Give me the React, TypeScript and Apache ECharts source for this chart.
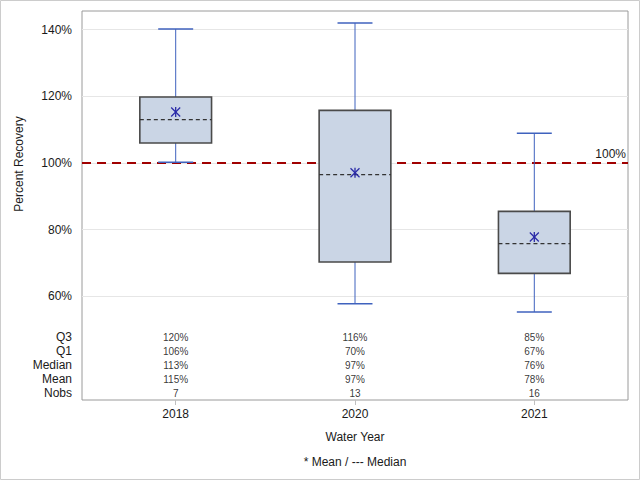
import React, { useEffect, useRef } from "react";
import * as echarts from "echarts";

const categories = ["2018", "2020", "2021"];
const whiskerMax = [140.2, 142.0, 108.9];
const q3 = [119.8, 115.8, 85.5];
const median = [113.0, 96.5, 75.8];
const q1 = [106.0, 70.3, 66.9];
const whiskerMin = [100.2, 57.8, 55.3];
const mean = [115.3, 97.1, 77.8];

const rowNames = ["Q3", "Q1", "Median", "Mean", "Nobs"];
const tableQ3 = ["120%", "116%", "85%"];
const tableQ1 = ["106%", "70%", "67%"];
const tableMedian = ["113%", "97%", "76%"];
const tableMean = ["115%", "97%", "78%"];
const tableNobs = ["7", "13", "16"];

const yTicks = [60, 80, 100, 120, 140];
const referenceValue = 100;

const FONT = "'Liberation Sans', Arial, Helvetica, sans-serif";
const TEXT = "#1a1a1a";

export default function App() {
  const ref = useRef<HTMLDivElement>(null);

  useEffect(() => {
    if (!ref.current) return;
    const chart = echarts.init(ref.current, null, { renderer: "svg" });

    const boxData = categories.map((_, i) => [
      i,
      whiskerMin[i],
      q1[i],
      median[i],
      q3[i],
      whiskerMax[i],
      mean[i],
    ]);

    const tableRows = [tableQ3, tableQ1, tableMedian, tableMean, tableNobs];
    const tableData: any[] = [];
    tableRows.forEach((row, r) => {
      row.forEach((txt, i) => tableData.push([i, rowNames[r], txt]));
    });

    const xMin = -0.5225;
    const xMax = 2.5225;

    const option: any = {
      animation: false,
      textStyle: { fontFamily: FONT },
      grid: [
        {
          left: 82,
          top: 11,
          width: 546,
          height: 389,
          show: true,
          borderColor: "#9a9a9a",
          borderWidth: 1,
          backgroundColor: "transparent",
        },
        { left: 82, top: 330, width: 546, height: 70 },
      ],
      xAxis: [
        {
          type: "value",
          gridIndex: 0,
          min: xMin,
          max: xMax,
          axisLine: { show: false },
          splitLine: { show: false },
          axisTick: {
            show: true,
            customValues: categories.map((_, i) => i),
            length: 5,
            lineStyle: { color: "#c0c0c0" },
          },
          axisLabel: {
            customValues: categories.map((_, i) => i),
            formatter: (v: number) => categories[Math.round(v)] ?? "",
            fontSize: 12,
            color: TEXT,
            fontFamily: FONT,
            margin: 8,
          },
          name: "Water Year",
          nameLocation: "middle",
          nameGap: 31,
          nameTextStyle: { fontSize: 12, color: TEXT, fontFamily: FONT },
        },
        {
          type: "value",
          gridIndex: 1,
          min: xMin,
          max: xMax,
          show: false,
        },
      ],
      yAxis: [
        {
          type: "value",
          gridIndex: 0,
          min: 28.9,
          max: 145.6,
          axisLine: { show: false },
          axisTick: { show: false },
          splitLine: { show: false },
          axisLabel: {
            customValues: yTicks,
            formatter: (v: number) => `${v}%`,
            fontSize: 12,
            color: TEXT,
            fontFamily: FONT,
            margin: 10,
          },
        },
        {
          type: "category",
          gridIndex: 1,
          data: rowNames,
          inverse: true,
          axisLine: { show: false },
          axisTick: { show: false },
          splitLine: { show: false },
          axisLabel: {
            interval: 0,
            fontSize: 12,
            color: TEXT,
            fontFamily: FONT,
            margin: 10,
          },
        },
      ],
      series: [
        {
          type: "line",
          xAxisIndex: 0,
          yAxisIndex: 0,
          data: [],
          z: 1,
          silent: true,
          markLine: {
            silent: true,
            symbol: "none",
            animation: false,
            data: [
              ...yTicks.map((t) => ({
                yAxis: t,
                lineStyle: { color: "#e6e6e6", width: 1, type: "solid" },
                label: { show: false },
              })),
              {
                yAxis: referenceValue,
                lineStyle: { color: "#A00000", width: 2, type: [9, 6] },
                label: {
                  show: true,
                  position: "insideEndTop",
                  formatter: `${referenceValue}%`,
                  fontSize: 12,
                  color: TEXT,
                  fontFamily: FONT,
                  distance: [2, 3],
                },
              },
            ],
          },
        },
        {
          type: "custom",
          xAxisIndex: 0,
          yAxisIndex: 0,
          z: 5,
          data: boxData,
          renderItem: (params: any, api: any) => {
            const i = api.value(0);
            const x = api.coord([i, 0])[0];
            const y = (v: number) => api.coord([i, v])[1];
            const halfW = api.size([0.4, 0])[0] / 2;
            const capHalf = api.size([0.195, 0])[0] / 2;
            const yMin = y(api.value(1));
            const yQ1 = y(api.value(2));
            const yMed = y(api.value(3));
            const yQ3 = y(api.value(4));
            const yMax = y(api.value(5));
            const yMean = y(api.value(6));
            const whisker = { stroke: "#3F62BE", lineWidth: 1 };
            const m = 4.5;
            const mStyle = { stroke: "#2A2AA8", lineWidth: 1.3 };
            return {
              type: "group",
              children: [
                { type: "line", shape: { x1: x, y1: yMax, x2: x, y2: yQ3 }, style: whisker },
                { type: "line", shape: { x1: x, y1: yQ1, x2: x, y2: yMin }, style: whisker },
                { type: "line", shape: { x1: x - capHalf, y1: yMax, x2: x + capHalf, y2: yMax }, style: { ...whisker, lineWidth: 1.5 } },
                { type: "line", shape: { x1: x - capHalf, y1: yMin, x2: x + capHalf, y2: yMin }, style: { ...whisker, lineWidth: 1.5 } },
                {
                  type: "rect",
                  shape: { x: x - halfW, y: yQ3, width: halfW * 2, height: yQ1 - yQ3 },
                  style: { fill: "#CAD5E5", stroke: "#4A4A4A", lineWidth: 1.6 },
                },
                {
                  type: "line",
                  shape: { x1: x - halfW, y1: yMed, x2: x + halfW, y2: yMed },
                  style: { stroke: "#333333", lineWidth: 1.2, lineDash: [4, 3] },
                },
                { type: "line", shape: { x1: x - m, y1: yMean - m, x2: x + m, y2: yMean + m }, style: mStyle },
                { type: "line", shape: { x1: x - m, y1: yMean + m, x2: x + m, y2: yMean - m }, style: mStyle },
                { type: "line", shape: { x1: x, y1: yMean - m - 0.5, x2: x, y2: yMean + m + 0.5 }, style: mStyle },
              ],
            };
          },
        },
        {
          type: "scatter",
          xAxisIndex: 1,
          yAxisIndex: 1,
          data: tableData,
          symbolSize: 1,
          itemStyle: { color: "rgba(0,0,0,0)" },
          silent: true,
          label: {
            show: true,
            position: "inside",
            formatter: (p: any) => p.value[2],
            fontSize: 10,
            color: "#000000",
            fontFamily: FONT,
          },
        },
      ],
      graphic: [
        {
          type: "rect",
          shape: { x: 0.5, y: 0.5, width: 639, height: 479 },
          style: { fill: "none", stroke: "#cccccc", lineWidth: 1 },
          silent: true,
        },
        {
          type: "text",
          x: 19,
          y: 164,
          rotation: Math.PI / 2,
          style: {
            text: "Percent Recovery",
            fontSize: 12,
            fill: TEXT,
            fontFamily: FONT,
            align: "center",
            verticalAlign: "middle",
          },
        },
        {
          type: "text",
          x: 355,
          y: 462,
          style: {
            text: "* Mean / --- Median",
            fontSize: 12,
            fill: TEXT,
            fontFamily: FONT,
            align: "center",
            verticalAlign: "middle",
          },
        },
      ],
    };

    chart.setOption(option);
    return () => chart.dispose();
  }, []);

  return (
    <div
      ref={ref}
      style={{ position: "fixed", left: 0, top: 0, width: 640, height: 480, background: "#ffffff" }}
    />
  );
}
